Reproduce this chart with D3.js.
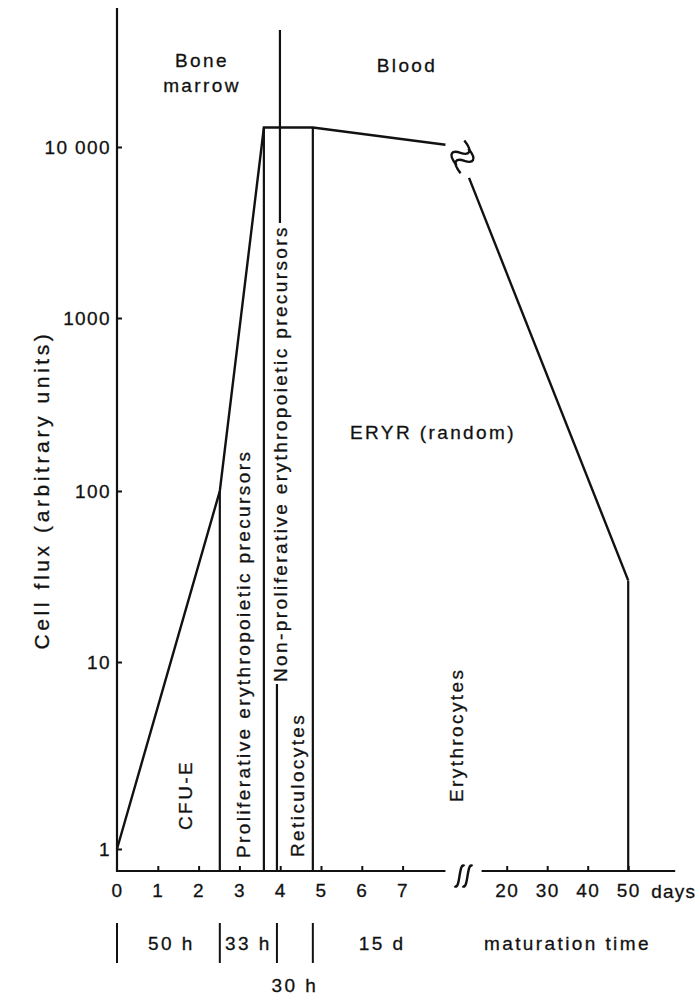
<!DOCTYPE html>
<html>
<head>
<meta charset="utf-8">
<script src="https://cdn.jsdelivr.net/npm/d3@7"></script>
<style>
  html, body { margin: 0; padding: 0; background: #fff; }
  svg { display: block; }
  text { font-family: "Liberation Sans", Arial, Helvetica, sans-serif; font-size: 19px; letter-spacing: 2.4px;
         fill: #111; stroke: #111; stroke-width: 0.3px; }
</style>
</head>
<body>
<svg id="chart" width="700" height="996"></svg>
<script>
// ---- data -------------------------------------------------------------
const yTickValues = [1, 10, 100, 1000, 10000];
const yTickLabels = ["1", "10", "100", "1000", "10 000"];
const earlyDayTicks = [0, 1, 2, 3, 4, 5, 6, 7];
const lateDayTicks = [20, 30, 40, 50];

// phase boundaries (days): CFU-E | proliferative | non-proliferative | reticulocytes
const phaseBounds = [2.52, 3.6, 3.92, 4.8];
const phaseNames = ["CFU-E", "Proliferative erythropoietic precursors",
  "Non-proliferative erythropoietic precursors", "Reticulocytes", "Erythrocytes"];
const maturationTimes = ["50 h", "33 h", "30 h", "15 d"];

// cell flux curve, before and after the break in the time axis
const fluxEarly = [
  { day: 0, flux: 1 },
  { day: 2.52, flux: 100 },
  { day: 3.6, flux: 13000 },
  { day: 4.8, flux: 13000 },
  { day: 8.05, flux: 10300 }
];
const fluxLate = [
  { day: 10.7, flux: 6600 },
  { day: 50, flux: 30 }
];

// ---- layout -----------------------------------------------------------
const svg = d3.select("#chart");
const axisY = 871;
const plotTop = 8;

const xEarly = d3.scaleLinear().domain([0, 7]).range([117, 402.6]);
const xLate = d3.scaleLinear().domain([20, 50]).range([506.7, 628.2]);
const y = d3.scaleLog().domain(yTickValues).range([849, 662, 491, 318, 147]);

const ink = "#111";
const g = svg.append("g");

function vline(x, y1, y2, w) {
  g.append("line").attr("x1", x).attr("x2", x).attr("y1", y1).attr("y2", y2)
    .attr("stroke", ink).attr("stroke-width", w || 2.2);
}
function hline(x1, x2, yy, w) {
  g.append("line").attr("x1", x1).attr("x2", x2).attr("y1", yy).attr("y2", yy)
    .attr("stroke", ink).attr("stroke-width", w || 2.2);
}

// ---- axes -------------------------------------------------------------
const x0 = xEarly(0);
vline(x0, plotTop, axisY + 1);

const yAxis = d3.axisLeft(y).tickValues(yTickValues)
  .tickFormat((d, i) => yTickLabels[i]).tickSize(-5).tickPadding(6);
const yAxisG = svg.append("g").attr("transform", `translate(${x0},0)`).call(yAxis);
yAxisG.select(".domain").remove();
yAxisG.selectAll("line").attr("stroke", ink).attr("stroke-width", 2);
yAxisG.selectAll("text").attr("font-size", null).attr("font-family", null).style("letter-spacing", "1.4px");

// horizontal time axis, split in two parts
hline(x0, xEarly(8.05), axisY);
hline(xLate(13.8), xLate(61.6), axisY);

const xAxisEarly = d3.axisBottom(xEarly).tickValues(earlyDayTicks)
  .tickFormat(d3.format("d")).tickSize(-5).tickPadding(13);
const xeG = svg.append("g").attr("transform", `translate(0,${axisY})`).call(xAxisEarly);
const xAxisLate = d3.axisBottom(xLate).tickValues(lateDayTicks)
  .tickFormat(d3.format("d")).tickSize(-5).tickPadding(13);
const xlG = svg.append("g").attr("transform", `translate(0,${axisY})`).call(xAxisLate);
[xeG, xlG].forEach(a => {
  a.select(".domain").remove();
  a.selectAll("line").attr("stroke", ink).attr("stroke-width", 2);
  a.selectAll("text").attr("font-size", null).attr("font-family", null).style("letter-spacing", "1.4px");
});
xeG.selectAll(".tick").filter(d => d === 0).select("line").remove();

svg.append("text").attr("x", xLate(50) + 23).attr("y", axisY + 27)
  .style("letter-spacing", "1.2px").text("days");

// break mark on the time axis (two integral-like strokes)
function integralStroke(cx, cy) {
  return `M${cx + 5},${cy - 10} C${cx - 1},${cy - 15} ${cx + 1},${cy + 15} ${cx - 5},${cy + 10}`;
}
const breakX = (xEarly(8.05) + xLate(13.8)) / 2;
[-4, 4].forEach(dx => {
  g.append("path").attr("d", integralStroke(breakX + dx, axisY + 5))
    .attr("fill", "none").attr("stroke", ink).attr("stroke-width", 2.4);
});

// y-axis title
svg.append("text")
  .attr("transform", `translate(42,${(y(10) + y(1000)) / 2}) rotate(-90)`)
  .attr("text-anchor", "middle").attr("dy", "0.35em")
  .style("font-size", "21px").style("letter-spacing", "3.6px")
  .text("Cell flux (arbitrary units)");

// ---- flux curve -------------------------------------------------------
const lineEarly = d3.line().x(d => xEarly(d.day)).y(d => y(d.flux));
const lineLate = d3.line().x(d => xLate(d.day)).y(d => y(d.flux));
g.append("path").datum(fluxEarly).attr("d", lineEarly)
  .attr("fill", "none").attr("stroke", ink).attr("stroke-width", 2.4).attr("stroke-linejoin", "miter");
g.append("path").datum(fluxLate).attr("d", lineLate)
  .attr("fill", "none").attr("stroke", ink).attr("stroke-width", 2.4);

// break mark on the curve (two tilted S strokes)
const lastEarly = fluxEarly[fluxEarly.length - 1];
const bx = xEarly(lastEarly.day) + 17, by = y(lastEarly.flux) + 12;
[-4, 4].forEach(off => {
  g.append("path")
    .attr("transform", `translate(${bx + off * 0.5},${by + off}) rotate(-50)`)
    .attr("d", "M-12,5 C-9,-10 -3,-8 0,0 C3,8 9,10 12,-5")
    .attr("fill", "none").attr("stroke", ink).attr("stroke-width", 2.4);
});

// ---- phase boundaries -------------------------------------------------
const fluxAt = day => {
  const p = fluxEarly.find(d => d.day === day);
  return p ? p.flux : 13000;
};
vline(xEarly(phaseBounds[0]), y(fluxAt(phaseBounds[0])), axisY);
vline(xEarly(phaseBounds[1]), y(fluxAt(phaseBounds[1])), axisY);
vline(xEarly(phaseBounds[3]), y(fluxAt(phaseBounds[3])), axisY);
const lastLate = fluxLate[fluxLate.length - 1];
vline(xLate(lastLate.day), y(lastLate.flux), axisY);

// rotated phase labels
function vlabel(text, cx, bottom) {
  return svg.append("text")
    .attr("transform", `translate(${cx},${bottom}) rotate(-90)`)
    .attr("dy", "0.36em").text(text);
}
vlabel(phaseNames[0], xEarly(1.66), 830);
vlabel(phaseNames[1], xEarly(phaseBounds[0]) + 23, 858);
const nonProl = vlabel(phaseNames[2], xEarly(phaseBounds[2]) + 3, 682);
vlabel(phaseNames[3], xEarly(phaseBounds[2]) + 20, 857);
vlabel(phaseNames[4], xLate(7.5), 802);

// the tall divider between marrow and blood, interrupted by its label
const nb = nonProl.node().getBBox();
const nbTop = 682 - nb.width;
vline(xEarly(phaseBounds[2]) + 3, 30, nbTop - 2);
vline(xEarly(phaseBounds[2]), 684, axisY);

// ---- region labels ----------------------------------------------------
svg.append("text").attr("x", 202).attr("y", 67).attr("text-anchor", "middle").text("Bone");
svg.append("text").attr("x", 202).attr("y", 92).attr("text-anchor", "middle").text("marrow");
svg.append("text").attr("x", 407).attr("y", 72).attr("text-anchor", "middle").text("Blood");
svg.append("text").attr("x", 433).attr("y", 439).attr("text-anchor", "middle").text("ERYR (random)");

// ---- maturation times -------------------------------------------------
const markDays = [0, phaseBounds[0], phaseBounds[2], phaseBounds[3]];
markDays.forEach(d => vline(xEarly(d), 923, 963, 2));
const mid = (a, b) => xEarly((a + b) / 2);
const rowY = 950;
svg.append("text").attr("x", mid(0, phaseBounds[0]) + 3).attr("y", rowY).attr("text-anchor", "middle").text(maturationTimes[0]);
svg.append("text").attr("x", mid(phaseBounds[0], phaseBounds[2])).attr("y", rowY).attr("text-anchor", "middle").text(maturationTimes[1]);
svg.append("text").attr("x", mid(phaseBounds[2], phaseBounds[3])).attr("y", 992).attr("text-anchor", "middle").text(maturationTimes[2]);
svg.append("text").attr("x", mid(phaseBounds[3], 8.05) + 3).attr("y", rowY).attr("text-anchor", "middle").text(maturationTimes[3]);
svg.append("text").attr("x", xLate(35)).attr("y", rowY).attr("text-anchor", "middle").text("maturation time");
</script>
</body>
</html>
